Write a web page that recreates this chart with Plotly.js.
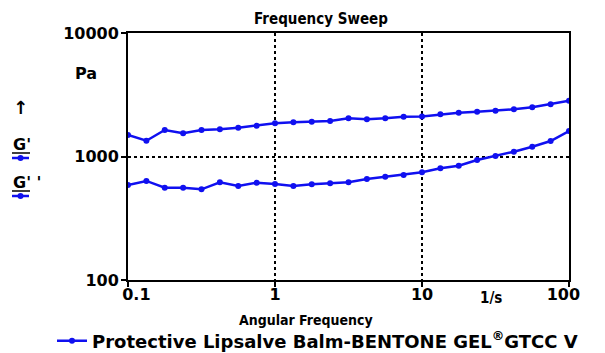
<!DOCTYPE html>
<html>
<head>
<meta charset="utf-8">
<script src="https://cdn.plot.ly/plotly-3.0.1.min.js"></script>
<style>html,body{margin:0;padding:0;background:#fff}#chart{width:605px;height:353px}</style>
</head>
<body>
<div id="chart"></div>
<script>
// Angular frequency (1/s)
const frequency = [0.1, 0.1334, 0.1778, 0.2371, 0.3162, 0.4217, 0.5623, 0.7499,
  1, 1.334, 1.778, 2.371, 3.162, 4.217, 5.623, 7.499,
  10, 13.34, 17.78, 23.71, 31.62, 42.17, 56.23, 74.99, 100];
// Storage modulus G' (Pa)
const gPrime = [1493, 1342, 1639, 1541, 1639, 1660, 1711, 1775,
  1857, 1893, 1914, 1938, 2036, 2000, 2036, 2099,
  2110, 2197, 2263, 2306, 2350, 2411, 2502, 2646, 2831];
// Loss modulus G'' (Pa)
const gDoublePrime = [588, 634, 559, 559, 542, 618, 577, 614,
  600, 577, 596, 607, 618, 658, 686, 708,
  745, 802, 843, 937, 1009, 1094, 1200, 1335, 1607];
const xTickVals = [0.1, 1, 10, 100];
const xTickText = ['<b>\u00a0\u00a0\u00a00.1</b>', '<b>1</b>', '<b>10</b>', '<b>100\u00a0\u00a0</b>'];
const yTickVals = [100, 1000, 10000];
const yTickText = ['<b>100</b>', '<b>1000</b>', '<b>10000</b>'];
const seriesName = '<b>Protective Lipsalve Balm-BENTONE GEL<sup>®</sup>GTCC V</b>';

const blue = '#1010f0';
const FONT = 'DejaVu Sans, Liberation Sans, Arial, sans-serif';
const COND = 'DejaVu Sans Condensed, DejaVu Sans, sans-serif';

const traces = [
  {x: frequency, y: gPrime, type: 'scatter', mode: 'lines+markers', name: seriesName,
   line: {color: blue, width: 2.5}, marker: {color: blue, size: 6}, showlegend: true},
  {x: frequency, y: gDoublePrime, type: 'scatter', mode: 'lines+markers', name: "G''",
   line: {color: blue, width: 2.5}, marker: {color: blue, size: 6}, showlegend: false}
];

const axisCommon = {
  type: 'log', showline: true, linecolor: '#000', linewidth: 2, mirror: true,
  ticks: 'outside', ticklen: 5, tickwidth: 2, tickcolor: '#000',
  showgrid: true, gridcolor: '#000', gridwidth: 2, griddash: 'dot',
  zeroline: false, automargin: false, tickfont: {family: FONT, size: 16, color: '#000'}
};

const layout = {
  width: 605, height: 353,
  margin: {l: 128, r: 36, t: 33, b: 73, autoexpand: false},
  paper_bgcolor: '#fff', plot_bgcolor: '#fff',
  title: {text: '<b>Frequency Sweep</b>', font: {family: COND, size: 15, color: '#000'},
          xref: 'container', x: 321/605, xanchor: 'center', yref: 'container', y: 1 - 19/353, yanchor: 'middle'},
  xaxis: Object.assign({}, axisCommon, {range: [-1, 2], tickmode: 'array', tickvals: xTickVals, ticktext: xTickText, ticklabelstandoff: -6}),
  yaxis: Object.assign({}, axisCommon, {range: [2, 4], tickmode: 'array', tickvals: yTickVals, ticktext: yTickText, ticklabelstandoff: -1}),
  showlegend: true,
  legend: {x: (52-128)/441, xanchor: 'left', y: (280-341)/247, yanchor: 'middle', orientation: 'h',
           font: {family: FONT, size: 18, color: '#000'}, bgcolor: 'rgba(0,0,0,0)', itemwidth: 30},
  annotations: [
    {text: '<b>Angular Frequency</b>', xref: 'paper', yref: 'paper', x: (306-128)/441, y: (280-320)/247,
     xanchor: 'center', yanchor: 'middle', showarrow: false, font: {family: COND, size: 14, color: '#000'}},
    {text: '<b>1/s</b>', xref: 'paper', yref: 'paper', x: (491-128)/441, y: (280-298)/247,
     xanchor: 'center', yanchor: 'middle', showarrow: false, font: {family: COND, size: 15, color: '#000'}},
    {text: '<b>Pa</b>', xref: 'paper', yref: 'paper', x: (86-128)/441, y: (280-73)/247,
     xanchor: 'center', yanchor: 'middle', showarrow: false, font: {family: FONT, size: 16, color: '#000'}},
    {text: '<b>↑</b>', xref: 'paper', yref: 'paper', x: (20-128)/441, y: (280-107)/247,
     xanchor: 'center', yanchor: 'middle', showarrow: false, font: {family: FONT, size: 18, color: '#000'}},
    {text: "<b>G'</b>", xref: 'paper', yref: 'paper', x: (11-128)/441, y: (280-144)/247,
     xanchor: 'left', yanchor: 'middle', showarrow: false, font: {family: FONT, size: 16, color: '#000'}},
    {text: "<b>G' '</b>", xref: 'paper', yref: 'paper', x: (11-128)/441, y: (280-182)/247,
     xanchor: 'left', yanchor: 'middle', showarrow: false, font: {family: FONT, size: 16, color: '#000'}}
  ],
  shapes: [
    {type: 'line', xref: 'paper', yref: 'paper', x0: (12-128)/441, x1: (30-128)/441, y0: (280-153)/247, y1: (280-153)/247, line: {color: '#000', width: 1.5}},
    {type: 'line', xref: 'paper', yref: 'paper', x0: (12-128)/441, x1: (30-128)/441, y0: (280-191)/247, y1: (280-191)/247, line: {color: '#000', width: 1.5}},
    {type: 'line', xref: 'paper', yref: 'paper', x0: (12-128)/441, x1: (29-128)/441, y0: (280-158)/247, y1: (280-158)/247, line: {color: blue, width: 2.5}},
    {type: 'line', xref: 'paper', yref: 'paper', x0: (12-128)/441, x1: (29-128)/441, y0: (280-196)/247, y1: (280-196)/247, line: {color: blue, width: 2.5}},
    {type: 'circle', xref: 'paper', yref: 'paper', x0: (17.5-128)/441, x1: (23.5-128)/441, y0: (280-161)/247, y1: (280-155)/247, fillcolor: blue, line: {width: 0}},
    {type: 'circle', xref: 'paper', yref: 'paper', x0: (17.5-128)/441, x1: (23.5-128)/441, y0: (280-199)/247, y1: (280-193)/247, fillcolor: blue, line: {width: 0}}
  ]
};

Plotly.newPlot('chart', traces, layout, {displayModeBar: false, staticPlot: true});
</script>
</body>
</html>
